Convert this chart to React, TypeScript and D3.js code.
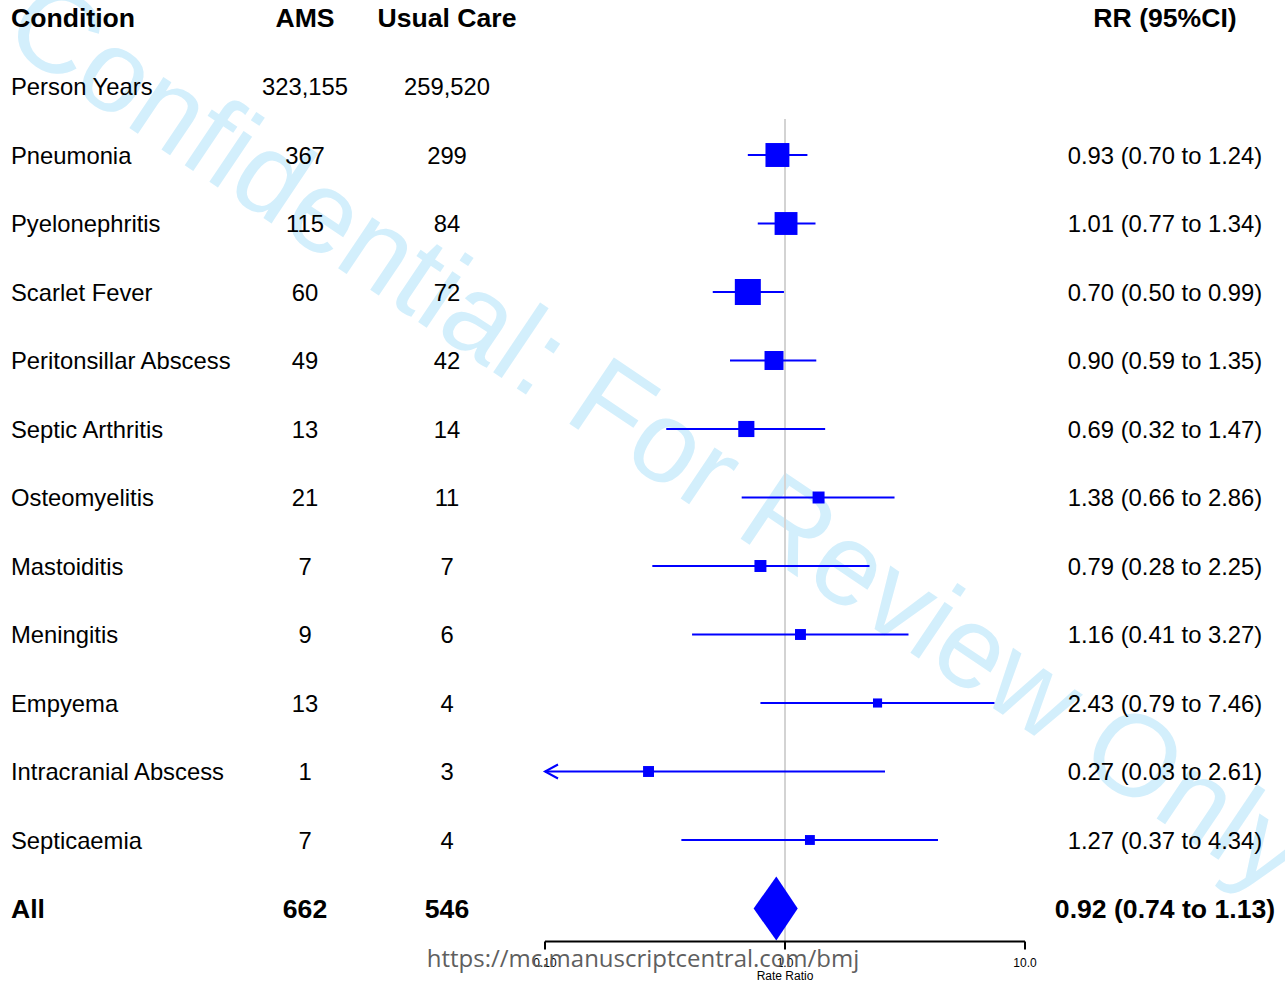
import React from 'react';
import * as d3 from 'd3';

const conditions = [
  'Pneumonia', 'Pyelonephritis', 'Scarlet Fever', 'Peritonsillar Abscess', 'Septic Arthritis',
  'Osteomyelitis', 'Mastoiditis', 'Meningitis', 'Empyema', 'Intracranial Abscess', 'Septicaemia',
];
const amsEvents = [367, 115, 60, 49, 13, 21, 7, 9, 13, 1, 7];
const usualEvents = [299, 84, 72, 42, 14, 11, 7, 6, 4, 3, 4];
const rateRatio = [0.93, 1.01, 0.70, 0.90, 0.69, 1.38, 0.79, 1.16, 2.43, 0.27, 1.27];
const lowerCI = [0.70, 0.77, 0.50, 0.59, 0.32, 0.66, 0.28, 0.41, 0.79, 0.03, 0.37];
const upperCI = [1.24, 1.34, 0.99, 1.35, 1.47, 2.86, 2.25, 3.27, 7.46, 2.61, 4.34];
// relative weights (drive the box size)
const weights = [9.2, 8.8, 10, 7.3, 6.2, 4.6, 4.6, 4.2, 3.5, 4.2, 3.8];

const personYears = ['323,155', '259,520'];
const total = { ams: 662, usual: 546, rr: 0.92, lo: 0.74, hi: 1.13 };
const axisTicks = [0.1, 1, 10];
const tickLabels = ['0.10', '1.0', '10.0'];

const W = 1285;
const H = 982;
const FONT = '"Liberation Sans", Arial, Helvetica, sans-serif';
const BLUE = '#0000ff';

const fmt = (v: number) => v.toFixed(2);

const App = () => {
  const rows = ['header', 'py', ...conditions, 'all'];
  const y = d3.scalePoint<string>().domain(rows).range([18, 908.5]);
  const x = d3.scaleLog().domain([0.1, 10]).range([545, 1025]);
  const box = d3.scaleLinear().domain([0, 10]).range([0, 26]);

  const colCond = 11;
  const colAms = 305;
  const colUsual = 447;
  const colRR = 1165;
  const axisY = 941.5;

  const allY = y('all')!;
  const diamond = `M${x(total.lo)},${allY} L${x(total.rr)},${allY - 32} L${x(total.hi)},${allY} L${x(total.rr)},${allY + 32} Z`;

  return (
    <svg width={W} height={H} style={{ position: 'absolute', left: 0, top: 0, display: 'block' }}
      fontFamily={FONT}>
      <rect width={W} height={H} fill="#fff" />

      {/* watermark */}
      <text x={659} y={435} dy="0.35em" textAnchor="middle" fontSize={116} fill="#d3effc"
        transform="rotate(33.9 659 435)">Confidential: For Review Only</text>

      {/* headers */}
      <g fontWeight="bold" fontSize={26.6} dominantBaseline="central">
        <text x={colCond} y={y('header')}>Condition</text>
        <text x={colAms} y={y('header')} textAnchor="middle">AMS</text>
        <text x={colUsual} y={y('header')} textAnchor="middle">Usual Care</text>
        <text x={colRR} y={y('header')} textAnchor="middle">RR (95%CI)</text>
      </g>

      <g fontSize={23.8} dominantBaseline="central" fill="#000">
        <text x={colCond} y={y('py')}>Person Years</text>
        <text x={colAms} y={y('py')} textAnchor="middle">{personYears[0]}</text>
        <text x={colUsual} y={y('py')} textAnchor="middle">{personYears[1]}</text>
        {conditions.map((c, i) => (
          <g key={c}>
            <text x={colCond} y={y(c)}>{c}</text>
            <text x={colAms} y={y(c)} textAnchor="middle">{amsEvents[i]}</text>
            <text x={colUsual} y={y(c)} textAnchor="middle">{usualEvents[i]}</text>
            <text x={colRR} y={y(c)} textAnchor="middle">
              {`${fmt(rateRatio[i])} (${fmt(lowerCI[i])} to ${fmt(upperCI[i])})`}
            </text>
          </g>
        ))}
      </g>

      <g fontWeight="bold" fontSize={26.6} dominantBaseline="central">
        <text x={colCond} y={allY}>All</text>
        <text x={colAms} y={allY} textAnchor="middle">{total.ams}</text>
        <text x={colUsual} y={allY} textAnchor="middle">{total.usual}</text>
        <text x={colRR} y={allY} textAnchor="middle">
          {`${fmt(total.rr)} (${fmt(total.lo)} to ${fmt(total.hi)})`}
        </text>
      </g>

      {/* reference line */}
      <line x1={x(1)} x2={x(1)} y1={119} y2={axisY} stroke="#d3d3d3" strokeWidth={2} />

      {/* CIs and boxes */}
      {conditions.map((c, i) => {
        const cy = y(c)!;
        const clippedLo = lowerCI[i] < 0.1;
        const x0 = x(Math.max(lowerCI[i], 0.1));
        const x1 = x(Math.min(upperCI[i], 10));
        const s = box(weights[i]);
        return (
          <g key={c}>
            <line x1={x0} x2={x1} y1={cy} y2={cy} stroke={BLUE} strokeWidth={2} />
            {clippedLo && (
              <path d={`M${x0 + 13},${cy - 7} L${x0},${cy} L${x0 + 13},${cy + 7}`}
                fill="none" stroke={BLUE} strokeWidth={2} />
            )}
            <rect x={x(rateRatio[i]) - s / 2} y={cy - s / 2} width={s} height={s} fill={BLUE} />
          </g>
        );
      })}

      <path d={diamond} fill={BLUE} />

      {/* axis */}
      <line x1={x(0.1)} x2={x(10)} y1={axisY} y2={axisY} stroke="#000" strokeWidth={2} />
      {axisTicks.map((t, i) => (
        <g key={t}>
          <line x1={x(t)} x2={x(t)} y1={axisY} y2={axisY + 8} stroke="#000" strokeWidth={2} />
          <text x={x(t)} y={963} textAnchor="middle" fontSize={12} dominantBaseline="central">{tickLabels[i]}</text>
        </g>
      ))}
      <text x={x(1)} y={976} textAnchor="middle" fontSize={12} dominantBaseline="central">Rate Ratio</text>

      {/* footer url */}
      <text x={643} y={957} textAnchor="middle" fontSize={24} fill="#5f5f5f" dominantBaseline="central"
        fontFamily='"Open Sans", "DejaVu Sans", sans-serif'>https://mc.manuscriptcentral.com/bmj</text>
    </svg>
  );
};

export default App;
